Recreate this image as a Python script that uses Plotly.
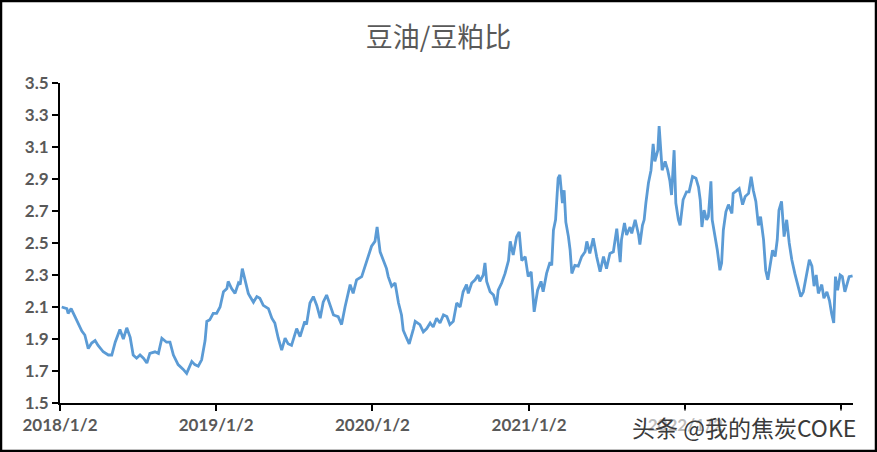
import datetime as dt
import plotly.graph_objects as go

# Data
start_date = "2018-01-02"
day_offsets = [
    4, 16, 19, 26, 35, 51, 58, 66, 74, 82, 89, 101, 113, 121, 129, 140, 148, 156, 164, 171,
    179, 187, 195, 203, 210, 222, 230, 238, 249, 257, 265, 276, 288, 296, 300, 308, 315, 323, 331, 339,
    343, 350, 358,
    366, 374, 382, 390, 393, 401, 409, 417, 421, 426, 432, 440, 444, 452, 460, 467, 475, 487, 495, 502,
    510, 518, 526, 533, 541, 553, 561, 572, 576, 584, 592, 600, 608, 615, 623, 631, 639, 650, 658, 666,
    678, 685, 693, 705, 713, 720,
    728, 736, 741, 748, 755, 763, 767, 775, 783, 791, 798, 802, 810, 816, 826, 830, 841, 849, 857, 865,
    872, 880, 888, 896, 904, 911, 919, 927, 935, 942, 950, 954, 962, 970, 977, 981, 989, 993, 997, 1005,
    1013, 1020, 1024, 1032, 1040, 1048, 1052, 1059, 1067, 1073, 1079, 1087,
    1094, 1101, 1108, 1116, 1124, 1129, 1137, 1145, 1149, 1153, 1158, 1164, 1168, 1174, 1178, 1182, 1188,
    1192, 1196, 1203, 1211, 1219, 1227, 1231, 1238, 1246, 1254, 1262, 1270, 1277, 1285, 1293, 1301, 1309,
    1312, 1319, 1324, 1332, 1336, 1344, 1352, 1355, 1361, 1365, 1369, 1375, 1381, 1386, 1390, 1397, 1400,
    1404, 1407, 1414, 1420, 1425, 1429, 1435, 1439, 1445, 1449,
    1456, 1464, 1470, 1478, 1486, 1492, 1496, 1500, 1505, 1511, 1515, 1521, 1524, 1531, 1536, 1542, 1546,
    1550, 1556, 1562, 1570, 1573, 1581, 1587, 1595, 1601, 1609, 1615, 1620, 1626, 1632, 1637, 1644, 1649,
    1654, 1659, 1665, 1671, 1676, 1680, 1686, 1692, 1698, 1704, 1710, 1717, 1725, 1731, 1737, 1745, 1751,
    1757, 1762, 1767, 1772, 1780, 1785, 1792, 1798, 1803, 1808, 1812, 1817, 1823, 1828, 1834, 1840, 1844,
    1852,
]
ratio_values = [
    2.10, 2.09, 2.06, 2.09, 2.04, 1.95, 1.925, 1.84, 1.875, 1.89, 1.86, 1.82, 1.80, 1.80, 1.88, 1.96, 1.90, 1.97, 1.91, 1.80,
    1.78, 1.80, 1.78, 1.75, 1.81, 1.82, 1.81, 1.905, 1.88, 1.88, 1.80, 1.74, 1.71, 1.685, 1.71, 1.76, 1.74, 1.73, 1.77, 1.89,
    2.01, 2.02, 2.06,
    2.06, 2.10, 2.195, 2.215, 2.26, 2.215, 2.185, 2.25, 2.24, 2.34, 2.27, 2.185, 2.165, 2.13, 2.165, 2.155, 2.11, 2.09, 2.03, 2.00,
    1.905, 1.83, 1.905, 1.87, 1.86, 1.965, 1.915, 2.01, 1.99, 2.125, 2.165, 2.11, 2.03, 2.13, 2.175, 2.11, 2.05, 2.04, 1.99, 2.10,
    2.24, 2.185, 2.27, 2.29, 2.36, 2.415,
    2.48, 2.51, 2.60, 2.445, 2.39, 2.34, 2.29, 2.23, 2.25, 2.125, 2.05, 1.955, 1.905, 1.87, 1.965, 2.01, 1.99, 1.945, 1.965, 2.00,
    1.975, 2.03, 2.00, 2.05, 2.04, 1.99, 2.01, 2.125, 2.10, 2.195, 2.24, 2.185, 2.25, 2.27, 2.30, 2.26, 2.30, 2.375, 2.26, 2.195,
    2.175, 2.11, 2.205, 2.25, 2.31, 2.39, 2.51, 2.425, 2.54, 2.57, 2.39, 2.415,
    2.29, 2.32, 2.07, 2.205, 2.26, 2.195, 2.31, 2.38, 2.36, 2.58, 2.645, 2.905, 2.925, 2.75, 2.83, 2.63, 2.54,
    2.455, 2.31, 2.36, 2.355, 2.415, 2.445, 2.51, 2.435, 2.53, 2.415, 2.32, 2.415, 2.34, 2.435, 2.445, 2.59, 2.38,
    2.52, 2.625, 2.55, 2.60, 2.56, 2.645, 2.55, 2.49, 2.61, 2.645, 2.75, 2.875, 2.955, 3.12, 3.01, 3.08, 3.23,
    3.08, 2.955, 3.01, 2.955, 2.89, 2.80, 3.08, 2.75, 2.645, 2.61,
    2.77, 2.82, 2.82, 2.915, 2.905, 2.85, 2.77, 2.60, 2.705, 2.645, 2.665, 2.885, 2.645, 2.54, 2.455, 2.33, 2.375,
    2.58, 2.695, 2.74, 2.685, 2.81, 2.83, 2.84, 2.74, 2.79, 2.81, 2.915, 2.83, 2.76, 2.61, 2.665, 2.52, 2.33,
    2.27, 2.355, 2.455, 2.415, 2.52, 2.705, 2.76, 2.54, 2.645, 2.50, 2.395, 2.31, 2.23, 2.165, 2.195, 2.31, 2.395,
    2.355, 2.23, 2.30, 2.185, 2.24, 2.155, 2.195, 2.14, 2.06, 2.00, 2.29, 2.205, 2.30, 2.29, 2.195, 2.25, 2.29,
    2.295,
]
tick_dates = ["2018-01-02", "2019-01-02", "2020-01-02", "2021-01-02", "2022-01-02", "2023-01-02"]
tick_labels = ["2018/1/2", "2019/1/2", "2020/1/2", "2021/1/2", "2022/1/2", "2023/1/2"]
axis_end_offset = 1853
title_text = "豆油/豆粕比"
watermark_text = "头条 @我的焦炭COKE"

base = dt.date.fromisoformat(start_date)
dates = [base + dt.timedelta(days=d) for d in day_offsets]
x_end = base + dt.timedelta(days=axis_end_offset)

W, H = 877, 452
ml, mr, mt, mb = 60, 24, 83, 49
pw, ph = W - ml - mr, H - mt - mb

fig = go.Figure()
fig.add_trace(go.Scatter(
    x=dates, y=ratio_values, mode="lines",
    line=dict(color="#5B9BD5", width=2.8),
    hoverinfo="x+y", showlegend=False,
))

tick_font = dict(family="Lato, Liberation Sans, sans-serif", size=17, color="#595959", weight="bold")

fig.update_layout(
    width=W, height=H,
    margin=dict(l=ml, r=mr, t=mt, b=mb, pad=0, autoexpand=False),
    paper_bgcolor="white", plot_bgcolor="white",
    title=dict(
        text=title_text, x=0.5, xref="container", xanchor="center",
        y=1 - 38 / H, yref="container", yanchor="middle",
        font=dict(family="Noto Sans CJK SC, sans-serif", size=27, color="#595959"),
    ),
    xaxis=dict(
        type="date", range=[base, x_end],
        tickvals=tick_dates, ticktext=tick_labels,
        showgrid=False, zeroline=False,
        showline=True, linecolor="black", linewidth=2,
        ticks="outside", ticklen=6, tickwidth=2, tickcolor="black",
        tickfont=tick_font, automargin=False,
    ),
    yaxis=dict(
        range=[1.5, 3.5], tick0=1.5, dtick=0.2, tickformat=".1f",
        showgrid=False, zeroline=False,
        showline=True, linecolor="black", linewidth=2,
        ticks="outside", ticklen=6, tickwidth=2, tickcolor="black",
        tickfont=tick_font, automargin=False,
    ),
)

# Outer chart border
fig.add_shape(
    type="rect", xref="paper", yref="paper",
    x0=(1 - ml) / pw, x1=(W - 1 - ml) / pw,
    y0=-(mb - 1) / ph, y1=(H - 1 - mb) / ph,
    line=dict(color="black", width=2.5), fillcolor="rgba(0,0,0,0)", layer="above",
)

# Watermark
fig.add_annotation(
    text=watermark_text, xref="paper", yref="paper",
    x=(631 - ml) / pw, y=-(427 - 403) / ph, xanchor="left", yanchor="middle",
    showarrow=False,
    font=dict(family="Noto Sans CJK SC, sans-serif", size=23, color="#3a3a3a"),
    bgcolor="rgba(255,255,255,0.6)", borderpad=0,
)

fig.write_html(
    "out.html",
    config={"displayModeBar": False},
    post_script="document.body.style.margin='0';document.body.style.overflow='hidden';",
)
